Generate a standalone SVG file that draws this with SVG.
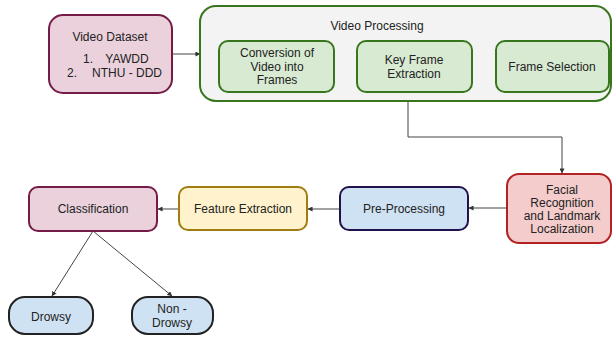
<svg xmlns="http://www.w3.org/2000/svg" width="613" height="339" viewBox="0 0 613 339">
  <defs>
    <marker id="arrow" viewBox="0 0 6 6" refX="5.5" refY="3" markerWidth="5" markerHeight="5" orient="auto" markerUnits="userSpaceOnUse">
      <path d="M0,0 L6,3 L0,6 z" fill="#333"/>
    </marker>
    <style>
      text { font-family: "Liberation Sans", Arial, sans-serif; font-size: 12px; fill: #222; text-anchor: middle; }
      .box { stroke-width: 2; }
      .magenta { fill: #ead1dc; stroke: #741b47; }
      .green { fill: #d9ead3; stroke: #38761d; }
      .outer { fill: #f3f3f3; stroke: #38761d; }
      .red { fill: #f4cccc; stroke: #b22222; }
      .blue { fill: #cfe2f3; stroke: #20124d; }
      .yellow { fill: #fff2cc; stroke: #a07d10; }
      .leaf { fill: #cfe2f3; stroke: #222; }
      .conn { fill: none; stroke: #444; stroke-width: 1; marker-end: url(#arrow); }
    </style>
  </defs>
  <rect width="613" height="339" fill="#ffffff"/>

  <g id="connectors">
    <path class="conn" d="M172,54 L200,54"/>
    <path class="conn" d="M408,102 L408,137 L562,137 L562,173"/>
    <path class="conn" d="M507,208 L469,208"/>
    <path class="conn" d="M340,209 L308,209"/>
    <path class="conn" d="M179,209 L158,209"/>
    <path class="conn" d="M93,231 L52,296"/>
    <path class="conn" d="M93,231 L172,296"/>
  </g>

  <g id="video-dataset">
    <rect class="box magenta" x="49" y="15" width="123" height="78" rx="14"/>
    <text x="110" y="41" font-size="11">Video Dataset</text>
    <text x="88" y="63">1.</text>
    <text x="127" y="63">YAWDD</text>
    <text x="72" y="77" font-size="13">2.</text>
    <text x="127" y="77">NTHU - DDD</text>
  </g>

  <g id="video-processing">
    <rect class="box outer" x="200" y="6" width="411" height="95" rx="16"/>
    <text x="377" y="30">Video Processing</text>
  </g>

  <g id="conversion">
    <rect class="box green" x="219" y="41" width="115" height="51" rx="9"/>
    <text x="277" y="57">Conversion of</text>
    <text x="277" y="71">Video into</text>
    <text x="277" y="84">Frames</text>
  </g>

  <g id="key-frame">
    <rect class="box green" x="357" y="41" width="115" height="51" rx="9"/>
    <text x="414" y="64">Key Frame</text>
    <text x="414" y="78">Extraction</text>
  </g>

  <g id="frame-selection">
    <rect class="box green" x="496" y="41" width="113" height="51" rx="9"/>
    <text x="552" y="71">Frame Selection</text>
  </g>

  <g id="facial-recognition">
    <rect class="box red" x="507" y="174" width="104" height="69" rx="12"/>
    <text x="562" y="194">Facial</text>
    <text x="562" y="207">Recognition</text>
    <text x="562" y="220">and Landmark</text>
    <text x="562" y="233">Localization</text>
  </g>

  <g id="pre-processing">
    <rect class="box blue" x="340" y="187" width="128" height="43" rx="9"/>
    <text x="404" y="213">Pre-Processing</text>
  </g>

  <g id="feature-extraction">
    <rect class="box yellow" x="179" y="187" width="128" height="43" rx="9"/>
    <text x="243" y="213">Feature Extraction</text>
  </g>

  <g id="classification">
    <rect class="box magenta" x="29" y="187" width="128" height="44" rx="9"/>
    <text x="93" y="213">Classification</text>
  </g>

  <g id="drowsy">
    <rect class="box leaf" x="9" y="297" width="84" height="37" rx="16"/>
    <text x="51" y="321">Drowsy</text>
  </g>

  <g id="non-drowsy">
    <rect class="box leaf" x="132" y="297" width="81" height="37" rx="16"/>
    <text x="172" y="313">Non -</text>
    <text x="172" y="327">Drowsy</text>
  </g>
</svg>
